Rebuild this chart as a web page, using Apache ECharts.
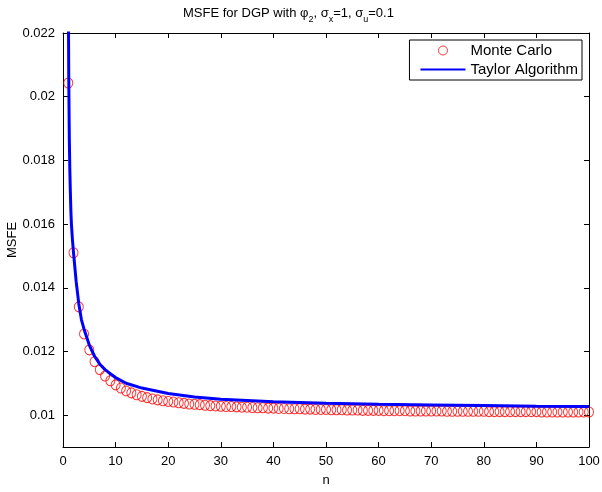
<!DOCTYPE html>
<html>
<head>
<meta charset="utf-8">
<script src="https://cdn.jsdelivr.net/npm/echarts@6/dist/echarts.min.js"></script>
<style>
  html, body { margin: 0; padding: 0; background: #fff; }
  #main { width: 602px; height: 492px; }
</style>
</head>
<body>
<div id="main"></div>
<script>
// Monte Carlo MSFE, n = 1..100
const mcValues = [
  0.02043, 0.01510, 0.01340, 0.01255, 0.01205, 0.01168, 0.01143, 0.01123, 0.01108, 0.01095,
  0.01085, 0.01076, 0.01070, 0.01064, 0.01059, 0.01055, 0.01051, 0.01048, 0.01045, 0.01043,
  0.01041, 0.01039, 0.01037, 0.01035, 0.01034, 0.01033, 0.01031, 0.01030, 0.01029, 0.01028,
  0.01027, 0.01027, 0.01026, 0.01025, 0.01025, 0.01024, 0.01023, 0.01023, 0.01022, 0.01022,
  0.01021, 0.01021, 0.01020, 0.01020, 0.01020, 0.01019, 0.01019, 0.01018, 0.01018, 0.01018,
  0.01017, 0.01017, 0.01017, 0.01016, 0.01016, 0.01016, 0.01015, 0.01015, 0.01015, 0.01015,
  0.01014, 0.01014, 0.01014, 0.01014, 0.01014, 0.01013, 0.01013, 0.01013, 0.01013, 0.01013,
  0.01013, 0.01013, 0.01012, 0.01012, 0.01012, 0.01012, 0.01012, 0.01012, 0.01012, 0.01012,
  0.01011, 0.01011, 0.01011, 0.01011, 0.01011, 0.01011, 0.01011, 0.01011, 0.01011, 0.01011,
  0.01010, 0.01010, 0.01010, 0.01010, 0.01010, 0.01010, 0.01010, 0.01010, 0.01010, 0.01010
];

// Taylor algorithm curve
const taylorN = [1, 1.1, 1.2, 1.3, 1.4, 1.5, 1.6, 1.8, 2, 2.5, 3, 3.5, 4, 5, 6, 7, 8, 9, 10,
  12, 15, 20, 25, 30, 40, 50, 60, 70, 80, 90, 100];
const taylorValues = [0.0235, 0.0205, 0.0187, 0.0177, 0.0170, 0.0164, 0.0160, 0.0155, 0.0151,
  0.0142, 0.0135, 0.0130, 0.0127, 0.0122, 0.01185, 0.0116, 0.01143, 0.0113, 0.01118,
  0.0110, 0.01085, 0.01068, 0.01057, 0.0105, 0.01042, 0.01037, 0.01034, 0.01032, 0.0103,
  0.01028, 0.01027];

const yTicks = [0.01, 0.012, 0.014, 0.016, 0.018, 0.02, 0.022];

const font = 'Liberation Sans, Arial, Helvetica, sans-serif';

const chart = echarts.init(document.getElementById('main'));

const mcData = mcValues.map((v, i) => [i + 1, v]);
const taylorData = taylorN.map((n, i) => [n, taylorValues[i]]);

const axisCommon = {
  axisLine: { show: true, onZero: false, lineStyle: { color: '#000', width: 1 } },
  axisTick: { show: true, inside: true, length: 5, lineStyle: { color: '#000' } },
  splitLine: { show: false }
};

chart.setOption({
  animation: false,
  backgroundColor: '#fff',
  title: {
    text: '{a|MSFE for DGP with φ}{s|2}{a|, σ}{s|x}{a|=1, σ}{s|u}{a|=0.1}',
    left: 178,
    top: 2,
    textStyle: {
      rich: {
        a: { fontFamily: font, fontSize: 13, fontWeight: 'normal', color: '#000', lineHeight: 19, verticalAlign: 'top' },
        s: { fontFamily: font, fontSize: 9, fontWeight: 'normal', color: '#000', lineHeight: 19, verticalAlign: 'top', padding: [8, 0, 0, 0] }
      }
    }
  },
  grid: { left: 63, right: 13, top: 33, bottom: 45, containLabel: false, outerBoundsMode: 'none' },
  legend: {
    right: 20,
    top: 40,
    orient: 'vertical',
    backgroundColor: '#fff',
    borderColor: '#000',
    borderWidth: 1,
    borderRadius: 0,
    padding: [3, 4, 3, 10],
    itemGap: 4,
    itemWidth: 45,
    itemHeight: 9,
    textStyle: { fontFamily: font, fontSize: 15, color: '#000' },
    data: [
      { name: 'Monte Carlo', icon: 'circle', itemStyle: { color: 'rgba(0,0,0,0)', borderColor: '#ff0000', borderWidth: 1 } },
      { name: 'Taylor Algorithm', itemStyle: { opacity: 0 } }
    ]
  },
  xAxis: [
    Object.assign({}, axisCommon, {
      type: 'value', min: 0, max: 100, interval: 10,
      name: 'n', nameLocation: 'middle', nameGap: 27, nameMoveOverlap: false,
      nameTextStyle: { fontFamily: font, fontSize: 13, color: '#000' },
      axisLabel: { fontFamily: font, fontSize: 13, color: '#000', margin: 8 }
    }),
    Object.assign({}, axisCommon, {
      type: 'value', min: 0, max: 100, interval: 10, position: 'top',
      axisLabel: { show: false }
    })
  ],
  yAxis: [
    Object.assign({}, axisCommon, {
      type: 'value', min: 0.009, max: 0.022,
      name: 'MSFE', nameLocation: 'middle', nameGap: 44, nameMoveOverlap: false,
      nameTextStyle: { fontFamily: font, fontSize: 13, color: '#000' },
      axisTick: Object.assign({}, axisCommon.axisTick, { customValues: yTicks }),
      axisLabel: {
        fontFamily: font, fontSize: 13, color: '#000', margin: 8,
        customValues: yTicks,
        formatter: v => String(+v.toFixed(3))
      }
    }),
    Object.assign({}, axisCommon, {
      type: 'value', min: 0.009, max: 0.022, position: 'right',
      axisTick: Object.assign({}, axisCommon.axisTick, { customValues: yTicks }),
      axisLabel: { show: false, customValues: yTicks }
    })
  ],
  series: [
    {
      name: 'Monte Carlo',
      type: 'scatter',
      data: mcData,
      symbol: 'circle',
      symbolSize: [9, 10],
      itemStyle: { color: 'rgba(0,0,0,0)', borderColor: '#ff0000', borderWidth: 1 },
      z: 2
    },
    {
      name: 'Taylor Algorithm',
      type: 'line',
      data: taylorData,
      showSymbol: false,
      symbol: 'none',
      clip: true,
      lineStyle: { color: '#0000ff', width: 3 },
      itemStyle: { color: '#0000ff' },
      z: 3
    }
  ]
});
</script>
</body>
</html>
